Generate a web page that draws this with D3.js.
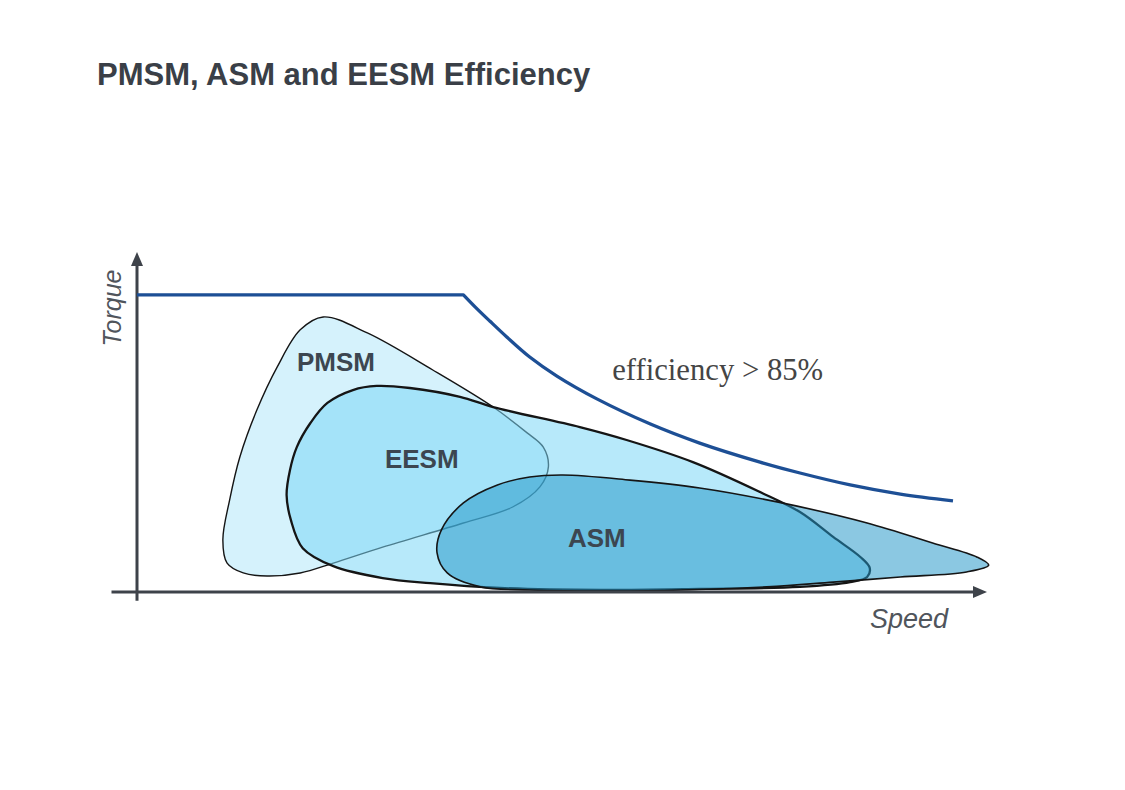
<!DOCTYPE html>
<html>
<head>
<meta charset="utf-8">
<script src="https://cdn.jsdelivr.net/npm/d3@7/dist/d3.min.js"></script>
<style>
	html, body { margin: 0; padding: 0; background: #fff; }
	svg { display: block; }
</style>
</head>
<body>
<svg id="chart" width="1125" height="790"></svg>
<script>
// efficiency regions as [speed, torque] in percent of axis length
const pmsmRegion = [
	[21.9, 80.9], [27.1, 76.2], [34.8, 65.3], [41.9, 54.4], [45.9, 46.8],
	[47.8, 42.6], [48.4, 36.8], [47.4, 30.9], [44.2, 25.0], [38.4, 20.3],
	[28.9, 13.2], [23.1, 8.5], [19.2, 5.6], [15.3, 4.7], [12.5, 5.6],
	[10.6, 8.5], [10.1, 15.3], [10.9, 27.1], [12.1, 39.7], [14.1, 53.5],
	[16.5, 66.2], [19.2, 77.1],
];

const eesmRegion = [
	[28.2, 60.6], [32.1, 60.0], [38.0, 57.4], [41.9, 54.4], [52.1, 48.5],
	[57.6, 44.7], [65.4, 38.2], [73.3, 29.4], [78.0, 23.5], [81.9, 16.2],
	[85.1, 10.3], [86.2, 7.1], [85.9, 4.4], [83.9, 2.9], [78.0, 1.5],
	[66.2, 0.9], [54.5, 0.6], [42.7, 1.2], [34.5, 2.6], [28.9, 4.1],
	[23.1, 7.6], [19.5, 12.9], [18.1, 21.2], [17.6, 28.5], [18.0, 35.9],
	[18.8, 42.6], [20.4, 49.7], [22.4, 55.6], [25.4, 59.4],
];

const asmRegion = [
	[35.3, 11.5], [35.8, 18.2], [38.4, 26.2], [42.4, 31.5], [46.2, 33.8],
	[50.1, 34.4], [58.0, 32.9], [66.2, 30.6], [75.3, 26.5], [85.9, 20.3],
	[93.6, 14.4], [98.8, 10.3], [100.2, 7.9], [97.6, 5.9], [89.8, 4.4],
	[81.9, 2.9], [74.1, 1.5], [58.0, 0.3], [46.2, 0.6], [40.4, 1.5],
	[36.5, 5.6],
];

// max torque envelope: constant torque, then field weakening
const envelopeFlat = [[0, 87.4], [38.4, 87.4]];
const envelopeFalling = [
	[38.4, 87.4], [39.8, 83.8], [41.5, 79.7], [43.5, 75.0], [46.2, 69.1],
	[49.4, 63.5], [54.1, 56.8], [60.4, 49.4], [66.2, 43.8], [73.3, 38.2],
	[78.0, 35.0], [83.9, 31.5], [89.8, 28.8], [96.0, 26.8],
];

const regionNames = ['PMSM', 'EESM', 'ASM'];
const labelSpeed = [23.4, 33.5, 54.1];
const labelTorque = [65.0, 36.5, 13.2];

const title = 'PMSM, ASM and EESM Efficiency';
const xLabel = 'Speed';
const yLabel = 'Torque';
const envelopeLabel = 'efficiency > 85%';
const envelopeLabelAt = [55.9, 62.4];

const colors = {
	axis: '#3e434a',
	text: '#3a3f47',
	label: '#3c4650',
	envelope: '#1d4f95',
	outline: '#151515',
};

const regionStyles = {
	PMSM: { fill: '#d5f2fc', opacity: 1, stroke: 1.4 },
	EESM: { fill: 'rgb(122,214,246)', opacity: 0.54, stroke: 2.3 },
	ASM: { fill: 'rgb(36,152,200)', opacity: 0.53, stroke: 1.6 },
};

const sans = '"Liberation Sans", Arial, Helvetica, sans-serif';

const svg = d3.select('#chart');

const x = d3.scaleLinear().domain([0, 100]).range([137, 987]);
const y = d3.scaleLinear().domain([0, 100]).range([592, 252]);

// title
svg.append('text')
	.attr('x', 97)
	.attr('y', 85)
	.style('font-family', sans)
	.style('font-weight', 'bold')
	.style('font-size', '31px')
	.style('fill', colors.text)
	.text(title);

const g = svg.append('g');

// regions, drawn bottom to top
const regionLine = d3.line()
	.x((d) => x(d[0]))
	.y((d) => y(d[1]))
	.curve(d3.curveCatmullRomClosed.alpha(0.5));

const regions = { PMSM: pmsmRegion, EESM: eesmRegion, ASM: asmRegion };

regionNames.forEach((name) => {
	const st = regionStyles[name];
	g.append('path')
		.datum(regions[name])
		.attr('d', regionLine)
		.attr('fill', st.fill)
		.attr('fill-opacity', st.opacity)
		.attr('stroke', colors.outline)
		.attr('stroke-width', st.stroke)
		.attr('stroke-linejoin', 'round');
});

// axes with arrow heads
const arrowLen = 14;
const arrowHalf = 6;

g.append('line')
	.attr('x1', x(-3)).attr('x2', x(100) - arrowLen + 1)
	.attr('y1', y(0)).attr('y2', y(0))
	.attr('stroke', colors.axis)
	.attr('stroke-width', 3);

g.append('path')
	.attr('d', `M${x(100)},${y(0)} L${x(100) - arrowLen},${y(0) - arrowHalf} L${x(100) - arrowLen},${y(0) + arrowHalf} Z`)
	.attr('fill', colors.axis);

g.append('line')
	.attr('x1', x(0)).attr('x2', x(0))
	.attr('y1', y(-2.6)).attr('y2', y(100) + arrowLen - 1)
	.attr('stroke', colors.axis)
	.attr('stroke-width', 3);

g.append('path')
	.attr('d', `M${x(0)},${y(100)} L${x(0) - arrowHalf},${y(100) + arrowLen} L${x(0) + arrowHalf},${y(100) + arrowLen} Z`)
	.attr('fill', colors.axis);

// torque envelope
const flatLine = d3.line().x((d) => x(d[0])).y((d) => y(d[1]));
const fallLine = d3.line()
	.x((d) => x(d[0]))
	.y((d) => y(d[1]))
	.curve(d3.curveCatmullRom.alpha(0.5));

g.append('path')
	.attr('d', flatLine(envelopeFlat) + fallLine(envelopeFalling).replace(/^M/, 'L'))
	.attr('fill', 'none')
	.attr('stroke', colors.envelope)
	.attr('stroke-width', 3.3)
	.attr('stroke-linejoin', 'round');

// region labels
g.selectAll('text.region-label')
	.data(regionNames)
	.join('text')
	.attr('class', 'region-label')
	.attr('x', (d, i) => x(labelSpeed[i]))
	.attr('y', (d, i) => y(labelTorque[i]))
	.attr('text-anchor', 'middle')
	.style('font-family', sans)
	.style('font-weight', 'bold')
	.style('font-size', '26px')
	.style('fill', colors.label)
	.text((d) => d);

g.append('text')
	.attr('x', x(envelopeLabelAt[0]))
	.attr('y', y(envelopeLabelAt[1]))
	.style('font-family', '"Liberation Serif", "Times New Roman", serif')
	.style('font-size', '30.7px')
	.style('fill', '#454545')
	.text(envelopeLabel);

// axis titles
g.append('text')
	.attr('x', 948)
	.attr('y', 628)
	.attr('text-anchor', 'end')
	.style('font-family', sans)
	.style('font-style', 'italic')
	.style('font-size', '27px')
	.style('fill', '#50555c')
	.text(xLabel);

g.append('text')
	.attr('transform', 'translate(121,308) rotate(-90)')
	.attr('text-anchor', 'middle')
	.style('font-family', sans)
	.style('font-style', 'italic')
	.style('font-size', '25px')
	.style('fill', '#50555c')
	.text(yLabel);
</script>
</body>
</html>
